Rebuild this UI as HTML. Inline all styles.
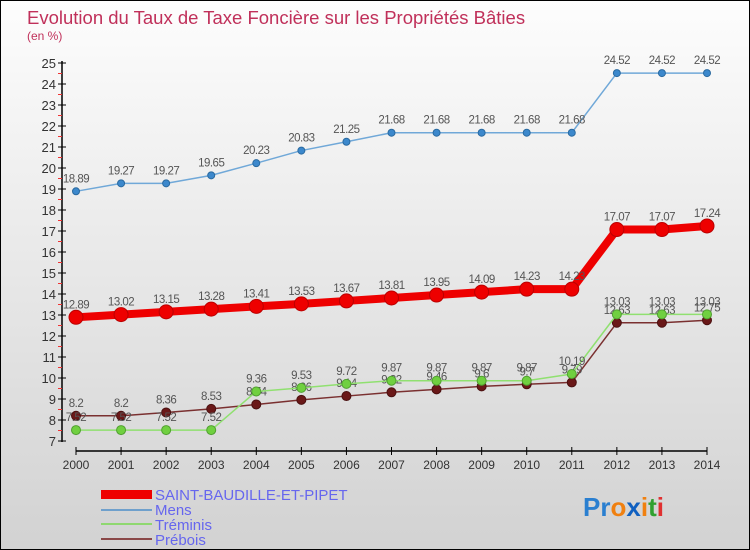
<!DOCTYPE html>
<html><head><meta charset="utf-8"><style>
body{margin:0;}
#c{width:750px;height:550px;position:relative;font-family:"Liberation Sans",sans-serif;background:linear-gradient(#fdfdfd,#d2d2d2);border:1px solid #000;box-sizing:border-box;overflow:hidden}
</style></head><body>
<div id="c">
<svg id="s" width="750" height="550" style="position:absolute;left:0;top:0">
<text x="26" y="23" font-size="18.5" fill="#c0305a">Evolution du Taux de Taxe Foncière sur les Propriétés Bâties</text>
<text x="26" y="39" font-size="12" fill="#c0305a">(en %)</text>
<line x1="61" y1="60" x2="61" y2="441" stroke="#000" stroke-width="1.5"/>
<line x1="75" y1="450" x2="706" y2="450" stroke="#000" stroke-width="1.5"/>
<g id="ax"></g><g id="series"></g>
<g>
<rect x="100" y="489" width="51" height="9" fill="#e00"/>
<text x="154" y="499" font-size="15" fill="#6666ee">SAINT-BAUDILLE-ET-PIPET</text>
<rect x="100" y="508" width="51" height="2" fill="#6fa0cc"/>
<text x="154" y="514" font-size="15" fill="#6666ee">Mens</text>
<rect x="100" y="522" width="51" height="2" fill="#8fd870"/>
<text x="154" y="529" font-size="15" fill="#6666ee">Tréminis</text>
<rect x="100" y="537" width="51" height="2" fill="#8a4848"/>
<text x="154" y="544" font-size="15" fill="#6666ee">Prébois</text>
</g>
<text x="582" y="515" font-size="26" font-weight="bold"><tspan fill="#2a7fd0">Pr</tspan><tspan fill="#f08010">o</tspan><tspan fill="#1060c0">x</tspan><tspan fill="#f08010">i</tspan><tspan fill="#30a030">t</tspan><tspan fill="#e03030">i</tspan></text>
</svg>
</div>
<script>
const years=[2000,2001,2002,2003,2004,2005,2006,2007,2008,2009,2010,2011,2012,2013,2014];
const saint=[12.89,13.02,13.15,13.28,13.41,13.53,13.67,13.81,13.95,14.09,14.23,14.23,17.07,17.07,17.24];
const mens=[18.89,19.27,19.27,19.65,20.23,20.83,21.25,21.68,21.68,21.68,21.68,21.68,24.52,24.52,24.52];
const treminis=[7.52,7.52,7.52,7.52,9.36,9.53,9.72,9.87,9.87,9.87,9.87,10.19,13.03,13.03,13.03];
const prebois=[8.2,8.2,8.36,8.53,8.74,8.96,9.14,9.32,9.46,9.6,9.7,9.79,12.63,12.63,12.75];
const yTicks=[7,8,9,10,11,12,13,14,15,16,17,18,19,20,21,22,23,24,25];
const NS='http://www.w3.org/2000/svg';
const X=i=>75+i*(631/14);
const Y=v=>440-(v-7)*21;
function mk(t,a,p){const e=document.createElementNS(NS,t);for(const k in a)e.setAttribute(k,a[k]);p.appendChild(e);return e;}
const ax=document.getElementById('ax');
yTicks.forEach(v=>{
 const l=mk('line',{x1:57,x2:65,y1:Y(v),y2:Y(v),stroke:'#000'},ax);
 
 
 if(v<25){mk('line',{x1:57,x2:61,y1:Y(v+0.5),y2:Y(v+0.5),stroke:'#e33'},ax);}
 const t=mk('text',{x:55,y:Y(v)+5,'font-size':13,'text-anchor':'end',fill:'#333'},ax);
 
 
 t.textContent=v;
});
years.forEach((yr,i)=>{
 mk('line',{x1:X(i),x2:X(i),y1:446,y2:454,stroke:'#000'},ax);
 const t=mk('text',{x:X(i),y:468,'font-size':12,'text-anchor':'middle',fill:'#333'},ax);
 
 
 t.textContent=yr;
});
const sg=document.getElementById('series');
function draw(vals,name,col,w,r,dot,dotStroke){
 const g=mk('g',{},sg);
 
 
 mk('polyline',{points:vals.map((v,i)=>X(i)+','+Y(v)).join(' '),fill:'none',stroke:col,'stroke-width':w,'stroke-linejoin':'round'},g);
 vals.forEach((v,i)=>{
  const c=mk('circle',{cx:X(i),cy:Y(v),r:r,fill:dot,stroke:dotStroke,'stroke-width':1},g);
  
  
  const t=mk('text',{x:X(i),y:Y(v)-9,'font-size':11.5,'text-anchor':'middle',fill:'#555','letter-spacing':'-0.5'},g);
  
  
  t.textContent=v;
 });
}
draw(prebois,'prebois','#7a3030',1.5,4.5,'#6a1818','#4a1010');
draw(treminis,'treminis','#90e070',1.5,4.5,'#70d040','#50a030');
draw(mens,'mens','#70a8d8',1.5,3.5,'#3c88cc','#2a6aa0');
draw(saint,'saint-baudille','#ee0000',8,7,'#ee0000','#b00');
</script>
</body></html>
